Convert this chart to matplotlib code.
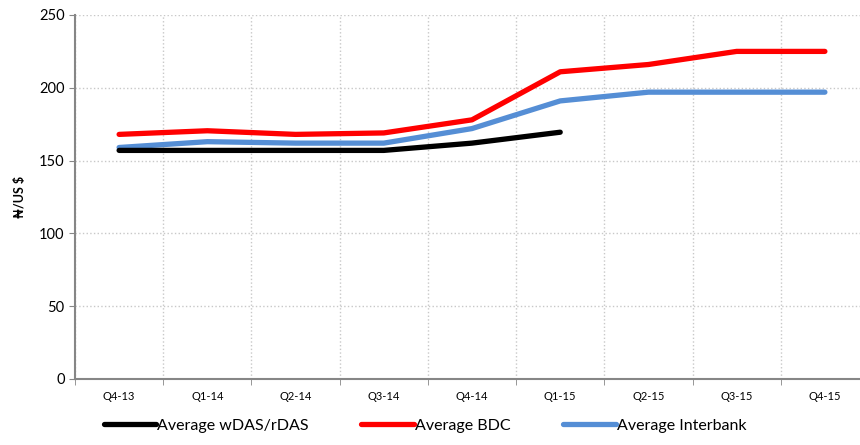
import numpy as np
import matplotlib.pyplot as plt
from matplotlib.ticker import MultipleLocator, FixedLocator

plt.rcParams['font.family'] = ['Lato', 'DejaVu Sans']

quarters = ['Q4-13', 'Q1-14', 'Q2-14', 'Q3-14', 'Q4-14', 'Q1-15', 'Q2-15', 'Q3-15', 'Q4-15']
wdas = [157, 157, 157, 157, 162, 169.5]
bdc = [168, 170.5, 168, 169, 178, 211, 216, 225, 225]
interbank = [159, 163, 162, 162, 172, 191, 197, 197, 197]

fig = plt.figure(figsize=(8.6, 4.45), dpi=100)
ax = fig.add_axes([75 / 860, 1 - 379 / 445, 794 / 860, 364 / 445])

x = np.arange(len(quarters))
ax.plot(x[:len(wdas)], wdas, color='black', lw=3.8, solid_capstyle='round', label='Average wDAS/rDAS', zorder=3)
ax.plot(x, bdc, color='#ff0000', lw=3.8, solid_capstyle='round', label='Average BDC', zorder=3)
ax.plot(x, interbank, color='#558ed5', lw=3.8, solid_capstyle='round', label='Average Interbank', zorder=2)

ax.set_xlim(-0.5, len(quarters) - 0.5)
ax.set_ylim(0, 250)
ax.yaxis.set_major_locator(MultipleLocator(50))
ax.set_xticks(x)
ax.set_xticklabels(quarters, fontsize=8)
ax.xaxis.set_minor_locator(FixedLocator(np.arange(-0.5, len(quarters), 1)))
ax.tick_params(axis='x', which='major', length=0, pad=9)
ax.tick_params(axis='x', which='minor', length=4, color='#868686')
ax.tick_params(axis='y', length=4, color='#868686', labelsize=10.5)

ax.grid(axis='y', which='major', color='#c8c8c8', ls=':', lw=1)
ax.grid(axis='x', which='minor', color='#c8c8c8', ls=':', lw=1)
ax.set_axisbelow(True)

for s in ['top', 'right']:
    ax.spines[s].set_visible(False)
for s in ['left', 'bottom']:
    ax.spines[s].set_color('#868686')
    ax.spines[s].set_linewidth(1.5)

ax.set_ylabel('₦/US $', fontsize=9, fontweight='bold', labelpad=9)

fig.legend(loc='lower center', bbox_to_anchor=(0.494, -0.005), ncol=3, frameon=False,
           fontsize=11.5, handlelength=3.3, columnspacing=3.3, handletextpad=0.05)

fig.savefig('out.png', dpi=100)
